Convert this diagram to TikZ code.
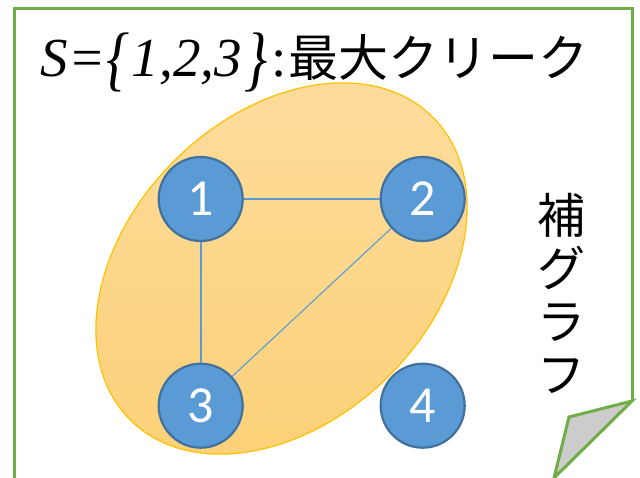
\documentclass[tikz,border=0pt]{standalone}
\usepackage{graphicx}
\usepackage{fontspec}
\setmainfont{Liberation Serif}
\newfontfamily\cjk{Noto Sans CJK JP}
\newfontfamily\calib{Carlito}
\definecolor{frameg}{RGB}{112,173,71}
\definecolor{nodeblue}{RGB}{91,155,213}
\definecolor{nodeedge}{RGB}{65,113,156}
\definecolor{elllight}{RGB}{253,221,158}
\definecolor{elldark}{RGB}{252,208,118}
\definecolor{ellborder}{RGB}{255,192,0}
\definecolor{foldgray}{RGB}{204,204,204}
\newcommand{\tallbrace}[1]{\raisebox{-0.1em}{\scalebox{1.05}[1.3]{#1}}}
\tikzset{
  vtx/.style={circle, minimum size=84pt, inner sep=0pt, fill=nodeblue, draw=nodeedge, line width=2.2pt, text=white, font=\calib\fontsize{52}{52}\selectfont},
  edg/.style={draw=nodeblue, line width=1.6pt},
  framestyle/.style={draw=frameg, line width=3pt},
}
\begin{document}
\begin{tikzpicture}[x=1pt,y=-1pt]
\useasboundingbox (0,0) rectangle (640,478);
% page frame
\draw[framestyle] (14,478) -- (14,9) -- (632,9) -- (632,401);
\coordinate (f1) at (632,401);
\coordinate (f2) at (569,417);
\coordinate (f3) at (554,478);
\draw[framestyle, fill=foldgray, line join=miter] (f1) -- (f2) -- (f3) -- cycle;
% clique ellipse
\shade[top color=elllight, bottom color=elldark, rotate around={45:(281.5,268.5)}]
  (281.5,268.5) ellipse [x radius=214, y radius=152];
\draw[ellborder, line width=1.2pt, rotate around={45:(281.5,268.5)}]
  (281.5,268.5) ellipse [x radius=214, y radius=152];
% title
\node[anchor=base west, inner sep=0pt] (title) at (40,77)
  {\fontsize{55}{60}\selectfont\textit{S\kern1pt=\kern1pt\tallbrace{\textbraceleft}\kern2pt 1,2,3\kern3pt\tallbrace{\textbraceright}}\kern3pt:\kern2pt{\cjk\fontsize{50}{60}\selectfont 最大クリーク}};
% vertical label
\node[align=center, inner sep=0pt, font=\cjk\fontsize{48}{53}\selectfont] (comp) at (561,293) {補\\グ\\ラ\\フ};
% vertices
\node[vtx] (n1) at (200.7,199) {1};
\node[vtx] (n2) at (422.7,199) {2};
\node[vtx] (n3) at (200.7,405.7) {3};
\node[vtx] (n4) at (422.7,405.7) {4};
% edges
\draw[edg] (n1) -- (n2);
\draw[edg] (n1) -- (n3);
\draw[edg, line width=1.1pt] (n2) -- (n3);
\end{tikzpicture}
\end{document}
